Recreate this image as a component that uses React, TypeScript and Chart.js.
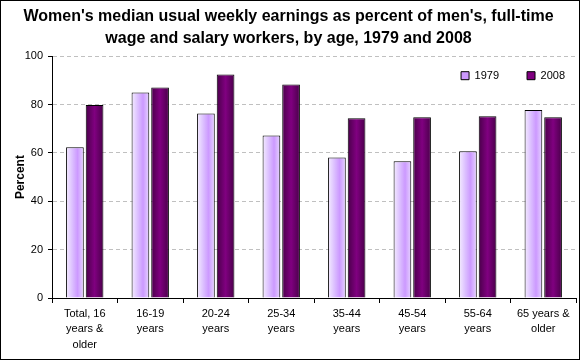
import { useEffect, useRef } from "react";
import { Chart, registerables } from "chart.js";

Chart.register(...registerables);

const titleLines = [
  "Women's median usual weekly earnings as percent of men's, full-time",
  "wage and salary workers, by age, 1979 and 2008",
];
const categories = [
  ["Total, 16", "years &", "older"],
  ["16-19", "years"],
  ["20-24", "years"],
  ["25-34", "years"],
  ["35-44", "years"],
  ["45-54", "years"],
  ["55-64", "years"],
  ["65 years &", "older"],
];
const seriesNames = ["1979", "2008"];
const values1979 = [62.3, 85.0, 76.3, 67.2, 58.1, 56.6, 60.7, 77.7];
const values2008 = [79.8, 87.1, 92.4, 88.3, 74.3, 74.8, 75.2, 74.8];
const yMin = 0;
const yMax = 100;
const yStep = 20;
const yTitle = "Percent";

const FONT = "'Liberation Sans', Arial, sans-serif";

const stops1979: [number, string][] = [
  [0, "#f4ecff"],
  [0.35, "#dcc0ff"],
  [0.65, "#cc99ff"],
  [1, "#e6d4ff"],
];
const stops2008: [number, string][] = [
  [0, "#4a004a"],
  [0.5, "#800080"],
  [1, "#4a004a"],
];

const gradientPlugin = {
  id: "barGradient",
  beforeDatasetsDraw(chart: any) {
    const c = chart.ctx;
    chart.data.datasets.forEach((_ds: any, di: number) => {
      const meta = chart.getDatasetMeta(di);
      const stops = di === 0 ? stops1979 : stops2008;
      meta.data.forEach((el: any) => {
        const { x, width } = el.getProps(["x", "width"], true);
        const g = c.createLinearGradient(x - width / 2, 0, x + width / 2, 0);
        stops.forEach(([o, col]) => g.addColorStop(o, col));
        el.options = { ...el.options, backgroundColor: g };
      });
    });
  },
};

// Legend is laid out at the top (taking no space) and then moved into the plot area.
const legendInsidePlugin = {
  id: "legendInside",
  beforeLayout(chart: any) {
    const lg = chart.legend;
    if (lg && !lg._insidePatched) {
      lg._insidePatched = true;
      const proto = Object.getPrototypeOf(lg);
      lg.fit = function () {
        proto.fit.call(this);
        this._realHeight = this.height;
        this.height = 0;
      };
    }
  },
  afterLayout(chart: any) {
    const lg = chart.legend;
    if (lg) {
      const top = chart.chartArea.top - 14;
      lg.top = top;
      lg.bottom = top + (lg._realHeight || 60);
      lg.left += 17;
      lg.right += 17;
    }
  },
};

export default function App() {
  const ref = useRef<HTMLCanvasElement | null>(null);

  useEffect(() => {
    if (!ref.current) return;
    const chart = new Chart(ref.current, {
      type: "bar",
      data: {
        labels: categories as any,
        datasets: [
          {
            label: seriesNames[0],
            data: values1979,
            backgroundColor: "#cc99ff",
            borderColor: "#000000",
            borderWidth: 1,
            categoryPercentage: 0.6,
            barPercentage: 0.9,
          },
          {
            label: seriesNames[1],
            data: values2008,
            backgroundColor: "#800080",
            borderColor: "#000000",
            borderWidth: 1,
            categoryPercentage: 0.6,
            barPercentage: 0.9,
          },
        ],
      },
      options: {
        responsive: false,
        animation: false,
        devicePixelRatio: 1,
        layout: { padding: { left: 0, right: 3, top: 0, bottom: 0 } },
        plugins: {
          title: {
            display: true,
            text: titleLines,
            color: "#000000",
            font: { family: FONT, size: 16, weight: "bold", lineHeight: 1.35 },
            padding: { top: 5, bottom: 7 },
          },
          legend: {
            position: "top",
            align: "end",
            labels: {
              boxWidth: 8,
              boxHeight: 8,
              padding: 28,
              color: "#000000",
              font: { family: FONT, size: 11 },
            },
          },
          tooltip: { enabled: false },
        },
        scales: {
          x: {
            grid: {
              display: true,
              drawOnChartArea: false,
              drawTicks: true,
              tickLength: 5,
              color: "#000000",
              offset: true,
            },
            border: { color: "#000000", width: 1 },
            ticks: {
              color: "#000000",
              font: { family: FONT, size: 11, lineHeight: 1.4 },
              padding: 3,
              maxRotation: 0,
              autoSkip: false,
            },
            afterFit: (s: any) => {
              s.height = 61;
            },
          },
          y: {
            min: yMin,
            max: yMax,
            ticks: {
              stepSize: yStep,
              color: "#000000",
              font: { family: FONT, size: 11 },
              padding: 5,
            },
            grid: {
              color: "#c0c0c0",
              tickColor: "#000000",
              tickLength: 4,
              tickBorderDash: [],
            },
            border: { color: "#000000", width: 1, dash: [4, 3] },
            title: {
              display: true,
              text: yTitle,
              color: "#000000",
              font: { family: FONT, size: 12, weight: "bold" },
              padding: { top: 12, bottom: 0 },
            },
            afterFit: (s: any) => {
              s.width = 51;
            },
          },
        },
      },
      plugins: [gradientPlugin, legendInsidePlugin],
    });
    return () => chart.destroy();
  }, []);

  return (
    <div
      style={{
        position: "absolute",
        left: 0,
        top: 0,
        width: 580,
        height: 360,
        boxSizing: "border-box",
        border: "1px solid #000",
        background: "#fff",
      }}
    >
      <canvas ref={ref} width={578} height={358} style={{ display: "block" }} />
    </div>
  );
}
